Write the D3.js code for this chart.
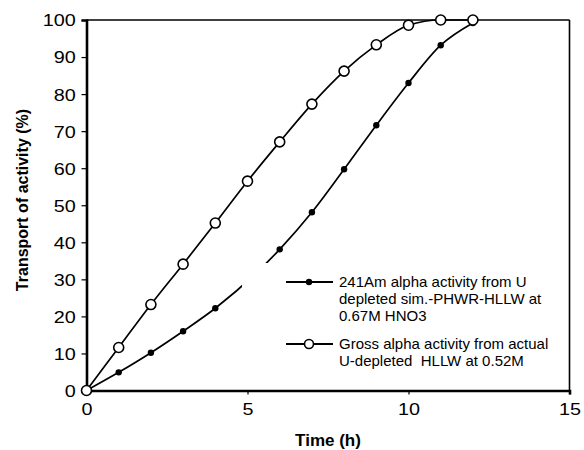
<!DOCTYPE html>
<html><head><meta charset="utf-8">
<script src="https://cdn.jsdelivr.net/npm/d3@7"></script>
<style>body{margin:0;background:#fff}svg{display:block}text{font-family:"Liberation Sans",Arial,sans-serif}</style>
</head><body><svg id="c" width="584" height="450"></svg>
<script>
const timeOpen = [0,1,2,3,4,5,6,7,8,9,10,11,12];
const grossAlpha = [0,11.6,23.2,34.1,45.2,56.5,67.1,77.3,86.2,93.3,98.6,100,100];
const timeFilled = [0,1,2,3,4,6,7,8,9,10,11,12];
const am241 = [0,4.9,10.2,16,22.2,38.1,48.1,59.7,71.6,83,93.2,99.2];
const xTicks = [0,5,10,15];
const yTicks = [0,10,20,30,40,50,60,70,80,90,100];
const legendFilled = ["241Am alpha activity from U","depleted sim.-PHWR-HLLW at","0.67M HNO3"];
const legendOpen = ["Gross alpha activity from actual","U-depleted  HLLW at 0.52M"];
const xLabel = "Time (h)", yLabel = "Transport of activity (%)";

const svg = d3.select("#c");
const L=86.5, R=569.5, T=20, B=390.5;
const x = d3.scaleLinear().domain([0,15]).range([L,R]);
const y = d3.scaleLinear().domain([0,100]).range([B,T]);

// frame top/right
svg.append("line").attr("x1",L).attr("x2",R).attr("y1",T).attr("y2",T).attr("stroke","#000").attr("stroke-width",1.6);
svg.append("line").attr("x1",R).attr("x2",R).attr("y1",T).attr("y2",B).attr("stroke","#000").attr("stroke-width",1.6);

const xa = svg.append("g").attr("transform",`translate(0,${B})`)
  .call(d3.axisBottom(x).tickValues(xTicks).tickSize(4).tickPadding(9).tickFormat(d3.format("d")));
const ya = svg.append("g").attr("transform",`translate(${L},0)`)
  .call(d3.axisLeft(y).tickValues(yTicks).tickSize(5).tickPadding(4).tickFormat(d3.format("d")));
[xa,ya].forEach(a=>{
  a.select(".domain").attr("stroke","#000").attr("stroke-width",2.6);
  a.selectAll(".tick line").attr("stroke","#000").attr("stroke-width",1.2);
  a.selectAll(".tick text").attr("fill","#000").style("font-size","16.5px").style("font-family","'Liberation Sans',Arial,sans-serif");
});
xa.selectAll(".tick text").attr("transform","scale(1.2,1)");
ya.selectAll(".tick text").attr("transform","scale(1.2,1)").attr("dy","0.36em");

const line = d3.line().curve(d3.curveMonotoneX).x(d=>x(d[0])).y(d=>y(d[1]));
const dFilled = timeFilled.map((t,i)=>[t,am241[i]]);
const dOpen = timeOpen.map((t,i)=>[t,grossAlpha[i]]);
svg.append("path").attr("d",line(dFilled)).attr("fill","none").attr("stroke","#000").attr("stroke-width",1.7);
svg.append("path").attr("d",line(dOpen)).attr("fill","none").attr("stroke","#000").attr("stroke-width",1.7);
svg.selectAll(".pf").data(dFilled).join("circle").attr("cx",d=>x(d[0])).attr("cy",d=>y(d[1])).attr("r",3.2).attr("fill","#000");
svg.selectAll(".po").data(dOpen).join("circle").attr("cx",d=>x(d[0])).attr("cy",d=>y(d[1])).attr("r",5).attr("fill","#fff").attr("stroke","#000").attr("stroke-width",1.6);

// legend
const lg = svg.append("g");
lg.append("rect").attr("x",242).attr("y",263).attr("width",310).attr("height",104).attr("fill","#fff");
function sym(yy, open){
  lg.append("line").attr("x1",286).attr("x2",333).attr("y1",yy).attr("y2",yy).attr("stroke","#000").attr("stroke-width",1.8);
  if(open) lg.append("circle").attr("cx",309).attr("cy",yy).attr("r",4.5).attr("fill","#fff").attr("stroke","#000").attr("stroke-width",1.6);
  else lg.append("circle").attr("cx",309).attr("cy",yy).attr("r",3.2).attr("fill","#000");
}
sym(282,false); sym(344,true);
legendFilled.forEach((s,i)=>lg.append("text").attr("x",339).attr("y",287+i*16.8).style("font-size","15px").style("white-space","pre").text(s));
legendOpen.forEach((s,i)=>lg.append("text").attr("x",339).attr("y",349+i*16.8).style("font-size","15px").style("white-space","pre").text(s));

svg.append("text").attr("x",328).attr("y",446).attr("text-anchor","middle").style("font-size","17px").style("font-weight","bold").text(xLabel);
svg.append("text").attr("transform","translate(28,200) rotate(-90)").attr("text-anchor","middle").style("font-size","16px").style("font-weight","bold").text(yLabel);
</script></body></html>
